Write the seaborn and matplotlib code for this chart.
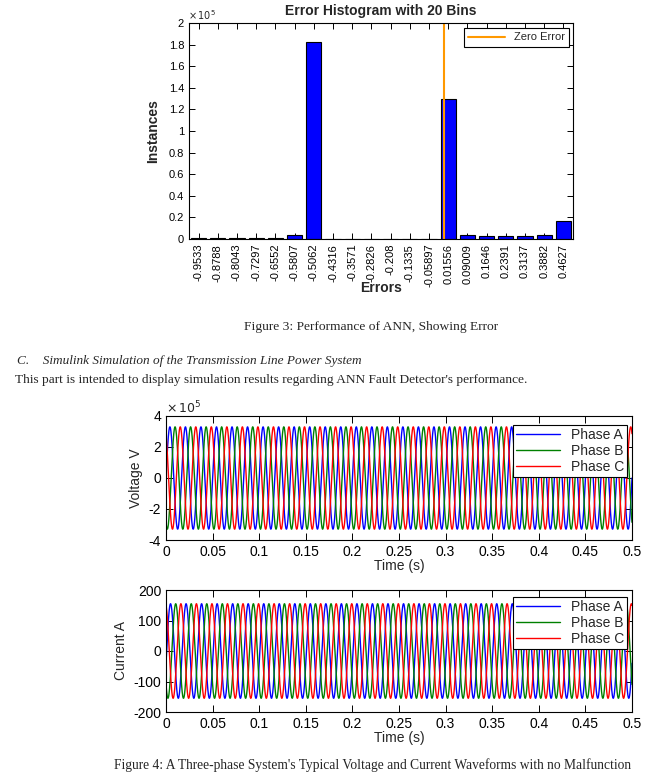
import numpy as np
import pandas as pd
import matplotlib
matplotlib.use("Agg")
import matplotlib.pyplot as plt
import seaborn as sns
from matplotlib.ticker import FixedLocator, FuncFormatter

# ---------------- data ----------------
bin_labels = ["-0.9533", "-0.8788", "-0.8043", "-0.7297", "-0.6552", "-0.5807",
              "-0.5062", "-0.4316", "-0.3571", "-0.2826", "-0.208", "-0.1335",
              "-0.05897", "0.01556", "0.09009", "0.1646", "0.2391", "0.3137",
              "0.3882", "0.4627"]
bin_centers = [float(s) for s in bin_labels]
instances = [600, 500, 500, 600, 1200, 4000, 182000, 0, 0, 0, 0, 0, 0,
             130000, 4000, 3100, 3100, 2500, 3700, 16700]
hist_yticks = [0, 0.2e5, 0.4e5, 0.6e5, 0.8e5, 1.0e5, 1.2e5, 1.4e5, 1.6e5, 1.8e5, 2.0e5]

phase_names = ["Phase A", "Phase B", "Phase C"]
phase_colors = ["#0000FF", "#008000", "#FF0000"]
phase_shift_deg = [0, -120, 120]
freq_hz = 60
t_end = 0.5
v_peak = 3.3e5
i_peak = 155
current_lag_deg = 15
time_ticks = [0, 0.05, 0.1, 0.15, 0.2, 0.25, 0.3, 0.35, 0.4, 0.45, 0.5]
v_ticks = [-4e5, -2e5, 0, 2e5, 4e5]
i_ticks = [-200, -100, 0, 100, 200]

# ---------------- style ----------------
sns.set_style("white")
plt.rcParams['font.family'] = ['Liberation Sans', 'DejaVu Sans']
plt.rcParams['axes.edgecolor'] = 'black'
plt.rcParams['axes.linewidth'] = 0.8
plt.rcParams['axes.unicode_minus'] = False

W, H = 670, 778
fig = plt.figure(figsize=(W / 100, H / 100), dpi=100)
fig.patch.set_facecolor('white')


def rect(l, t, r, b):
    return [l / W, 1 - b / H, (r - l) / W, (b - t) / H]


def fx(x):
    return x / W


def fy(y):
    return 1 - y / H


def box_ticks(ax, length):
    ax.tick_params(direction='in', length=length, width=0.7, top=True, right=True,
                   bottom=True, left=True, colors='black')
    for s in ax.spines.values():
        s.set_visible(True)
        s.set_color('black')
        s.set_linewidth(0.8)


# ---------------- histogram ----------------
axh = fig.add_axes(rect(189, 23, 573, 239))
bw = (bin_centers[-1] - bin_centers[0]) / (len(bin_centers) - 1)
lo, hi = bin_centers[0] - bw / 2, bin_centers[-1] + bw / 2
hdf = pd.DataFrame({"err": bin_centers, "n": instances})
sns.histplot(data=hdf, x="err", weights="n", bins=len(bin_centers), binrange=(lo, hi),
             shrink=0.8, color="#0000FF", edgecolor="black", linewidth=0.8, alpha=1,
             ax=axh, legend=False)
zl = axh.axvline(0, color="#FF9900", lw=1.5, label="Zero Error")
axh.set_xlim(lo, hi)
axh.set_ylim(0, 2e5)
axh.xaxis.set_major_locator(FixedLocator(bin_centers))
axh.set_xticklabels(bin_labels, rotation=90, fontsize=8)
axh.yaxis.set_major_locator(FixedLocator(hist_yticks))
axh.yaxis.set_major_formatter(FuncFormatter(lambda v, p: "%g" % round(v / 1e5, 2)))
axh.tick_params(axis='y', labelsize=8)
box_ticks(axh, 4)
axh.set_xlabel("Errors", fontsize=10, fontweight='bold', labelpad=-5)
axh.set_ylabel("Instances", fontsize=10, fontweight='bold', labelpad=6)
axh.set_title("Error Histogram with 20 Bins", fontsize=10, fontweight='bold', pad=6)
axh.legend(handles=[zl], loc='upper right', bbox_to_anchor=(0.99, 0.977),
           borderaxespad=0, fontsize=8, frameon=True, fancybox=False,
           edgecolor='black', framealpha=1, handlelength=3.3)
axh.legend_.get_frame().set_linewidth(0.8)
fig.text(fx(188), fy(15), r"$\times\,10^{5}$", fontsize=7, ha='left', va='center')

# ---------------- text ----------------
serif = ['Liberation Serif', 'DejaVu Serif']
fig.text(fx(371), fy(327), "Figure 3: Performance of ANN, Showing Error",
         family=serif, fontsize=9.7, ha='center', va='center')
fig.text(fx(17), fy(361), "C.    Simulink Simulation of the Transmission Line Power System",
         family=serif, fontsize=9.5, style='italic', ha='left', va='center')
fig.text(fx(15), fy(380),
         "This part is intended to display simulation results regarding ANN Fault Detector's performance.",
         family=serif, fontsize=9.6, ha='left', va='center')
fig.text(fx(373), fy(765),
         "Figure 4: A Three-phase System's Typical Voltage and Current Waveforms with no Malfunction",
         family=serif, fontsize=9.75, ha='center', va='center')

# ---------------- waveforms ----------------
t = np.linspace(0, t_end, 6001)
rows = []
for name, sh in zip(phase_names, phase_shift_deg):
    w = 2 * np.pi * freq_hz * t
    v = v_peak * np.sin(w + np.deg2rad(sh))
    i = i_peak * np.sin(w + np.deg2rad(sh - current_lag_deg))
    rows.append(pd.DataFrame({"Time (s)": t, "V": v, "I": i, "phase": name}))
wdf = pd.concat(rows, ignore_index=True)
pal = dict(zip(phase_names, phase_colors))


def wave_axes(ax, ycol, yticks, ylim, ylabel, leg_top):
    sns.lineplot(data=wdf, x="Time (s)", y=ycol, hue="phase", palette=pal,
                 estimator=None, lw=1.0, ax=ax, sort=False)
    ax.set_xlim(0, t_end)
    ax.set_ylim(*ylim)
    ax.xaxis.set_major_locator(FixedLocator(time_ticks))
    ax.xaxis.set_major_formatter(FuncFormatter(lambda v, p: "%g" % round(v, 3)))
    ax.yaxis.set_major_locator(FixedLocator(yticks))
    ax.tick_params(labelsize=10)
    box_ticks(ax, 5)
    ax.set_xlabel("Time (s)", fontsize=10, labelpad=0)
    ax.set_ylabel(ylabel, fontsize=10, labelpad=4)
    h, l = ax.get_legend_handles_labels()
    leg = ax.legend(h, l, loc='upper right', bbox_to_anchor=(0.99, leg_top),
                    borderaxespad=0, fontsize=10, frameon=True, fancybox=False,
                    edgecolor='black', framealpha=1, handlelength=3.2,
                    labelspacing=0.15, borderpad=0.2)
    leg.get_frame().set_linewidth(0.8)
    for ln in leg.get_lines():
        ln.set_linewidth(1.0)


axv = fig.add_axes(rect(166, 416, 632, 540))
wave_axes(axv, "V", v_ticks, (-4e5, 4e5), "Voltage V", 0.927)
axv.yaxis.set_major_formatter(FuncFormatter(lambda v, p: "%g" % round(v / 1e5, 2)))
fig.text(fx(166), fy(408), r"$\times\,10^{5}$", fontsize=9, ha='left', va='center')

axi = fig.add_axes(rect(166, 590, 632, 712))
wave_axes(axi, "I", i_ticks, (-200, 200), "Current A", 0.943)
axi.yaxis.set_major_formatter(FuncFormatter(lambda v, p: "%g" % v))

fig.savefig("out.png", dpi=100, facecolor='white')
